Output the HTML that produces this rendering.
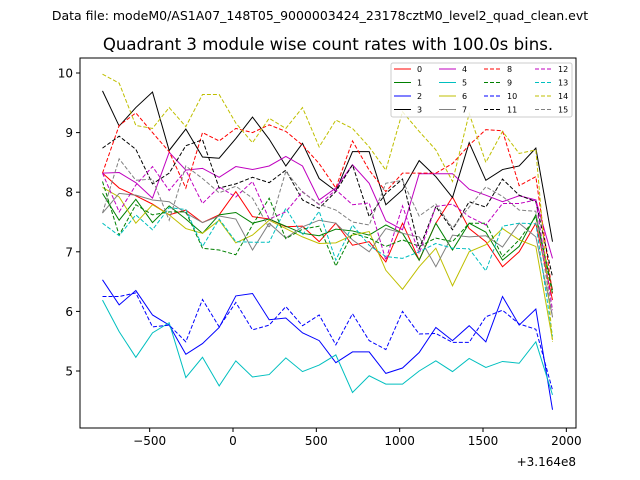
<!DOCTYPE html>
<html><head><meta charset="utf-8"><style>
html,body{margin:0;padding:0;background:#fff}
svg{display:block;font-family:"DejaVu Sans","Liberation Sans",sans-serif}
</style></head><body>
<svg id="chart" width="640" height="480" viewBox="0 0 640 480" xmlns="http://www.w3.org/2000/svg">
<rect width="640" height="480" fill="#fff"/>
<text x="320" y="20" font-size="12.5" text-anchor="middle">Data file: modeM0/AS1A07_148T05_9000003424_23178cztM0_level2_quad_clean.evt</text>
<text x="328" y="50" font-size="16.6" text-anchor="middle">Quadrant 3 module wise count rates with 100.0s bins.</text>
<g id="plot"></g>
<g id="axes"></g>
<g id="legend"></g>
</svg>
<script>
const xTicks=[-500,0,500,1000,1500,2000];
const yTicks=[5,6,7,8,9,10];
const xStart=-783, xStep=100, nPts=28;
const labels=["0","1","2","3","4","5","6","7","8","9","10","11","12","13","14","15"];
const colors=["#ff0000","#008000","#0000ff","#000000","#bf00bf","#00bfbf","#bfbf00","#808080","#ff0000","#008000","#0000ff","#000000","#bf00bf","#00bfbf","#bfbf00","#808080"];
const s0=[8.32,8.07,7.94,7.80,7.62,7.70,7.49,7.62,8.01,7.59,7.55,7.42,7.43,7.17,7.48,7.11,7.17,6.83,7.48,6.86,7.48,7.92,7.39,7.17,6.75,7.00,7.48,6.19];
const s1=[7.98,7.53,7.88,7.49,7.77,7.55,7.31,7.62,7.66,7.48,7.55,7.43,7.31,7.27,7.38,7.35,7.28,7.45,7.31,6.86,7.48,7.03,7.48,7.33,6.86,7.09,7.62,6.36];
const s2=[6.53,6.11,6.35,5.94,5.77,5.28,5.46,5.73,6.26,6.30,5.86,5.89,5.64,5.51,5.14,5.32,5.32,4.96,5.05,5.31,5.73,5.51,5.76,5.49,6.25,5.77,6.04,4.35];
const s3=[9.70,9.11,9.42,9.68,8.70,9.06,8.59,8.57,8.90,9.26,8.89,8.44,8.82,8.23,8.02,8.68,8.68,7.79,8.04,8.53,8.26,7.91,8.83,8.20,8.38,8.44,8.74,7.17];
const s4=[8.32,8.33,8.16,7.90,8.67,8.37,8.40,8.25,8.43,8.38,8.44,8.60,8.44,7.87,8.07,8.46,8.15,7.52,7.37,8.31,8.31,8.31,8.05,7.95,7.84,7.94,7.87,6.89];
const s5=[6.19,5.66,5.23,5.64,5.81,4.89,5.23,4.75,5.17,4.90,4.94,5.22,4.99,5.10,5.27,4.64,4.92,4.78,4.78,5.00,5.17,4.99,5.21,5.06,5.16,5.13,5.49,4.60];
const s6=[8.08,7.92,7.48,7.79,7.62,7.39,7.31,7.53,7.15,7.28,7.53,7.39,7.25,7.14,7.15,7.28,7.34,6.69,6.37,6.75,7.06,6.43,7.00,7.12,7.39,7.20,7.09,5.52];
const s7=[7.65,7.98,7.95,7.87,7.84,7.65,7.49,7.60,7.55,7.03,7.48,7.23,7.42,7.53,7.48,7.20,7.00,7.39,7.31,7.25,6.75,7.28,7.25,7.27,7.08,7.48,7.25,5.91];
const s8=[8.32,9.12,9.33,9.00,8.68,8.07,9.00,8.86,9.07,9.00,9.13,9.02,8.79,8.48,8.07,8.86,8.37,8.01,8.32,8.32,8.32,8.48,8.79,9.05,9.03,8.11,8.26,6.30];
const s9=[8.18,7.28,7.79,7.62,7.67,7.67,7.06,7.03,6.95,7.45,7.90,7.22,7.38,7.43,6.76,7.31,7.23,7.09,7.20,7.09,7.23,7.17,7.48,7.48,6.92,7.20,7.59,6.30];
const s10=[6.25,6.25,6.31,5.74,5.77,5.49,6.20,5.74,6.15,5.69,5.77,6.08,5.76,5.94,5.44,5.96,5.51,5.36,6.00,5.62,5.63,5.48,5.48,5.91,6.02,5.79,5.70,4.68];
const s11=[8.74,8.94,8.72,8.14,8.32,8.78,8.88,8.07,8.14,8.25,8.16,8.37,7.87,7.73,8.01,8.46,7.59,7.98,8.22,7.05,7.76,7.37,7.84,7.75,8.22,7.95,7.84,6.58];
const s12=[8.32,7.67,8.12,8.43,8.03,8.37,7.81,8.09,7.92,8.18,7.55,7.67,8.01,7.79,8.04,7.79,7.82,6.86,7.77,6.97,7.76,7.80,7.59,7.45,7.81,7.81,7.87,6.02];
const s13=[7.48,7.27,7.62,7.37,7.74,7.71,7.09,7.55,7.17,7.16,7.16,7.73,7.28,7.68,6.86,7.45,7.11,6.92,6.89,7.00,7.14,7.06,7.05,6.68,7.43,7.48,7.47,5.58];
const s14=[9.98,9.83,9.12,9.07,9.42,9.10,9.64,9.64,9.16,8.83,9.24,9.07,9.42,8.76,9.21,9.07,8.76,8.37,9.35,9.02,8.71,8.18,9.32,8.50,9.02,8.65,8.71,5.49];
const s15=[7.65,8.56,8.20,8.22,7.53,8.44,8.23,7.99,8.10,7.90,7.40,8.35,8.00,7.80,7.70,7.50,7.45,8.15,8.20,7.60,7.80,7.40,7.75,8.09,7.93,7.70,7.68,5.90];
const series=[s0,s1,s2,s3,s4,s5,s6,s7,s8,s9,s10,s11,s12,s13,s14,s15];

const L=80,R=576,T=58,B=428;
function xs(v){return 233+(v)*0.16667;}
function ys(v){return 371-(v-5)*59.6;}
const NS="http://www.w3.org/2000/svg";
function mk(tag,attrs,parent){const e=document.createElementNS(NS,tag);for(const k in attrs)e.setAttribute(k,attrs[k]);parent.appendChild(e);return e;}
const plot=document.getElementById('plot'),axes=document.getElementById('axes'),leg=document.getElementById('legend');

series.forEach((s,k)=>{
  const pts=s.map((v,i)=>xs(xStart+i*xStep).toFixed(2)+','+ys(v).toFixed(2)).join(' ');
  const pl=mk('polyline',{points:pts,fill:'none',stroke:colors[k],'stroke-width':1,'stroke-dasharray':k>=8?'4,2':'none'},plot);
  
  
});

const fr=mk('rect',{x:L,y:T,width:R-L,height:B-T,fill:'none',stroke:'#000','stroke-width':1},axes);


xTicks.forEach(t=>{
  const x=xs(t);
  const tl=mk('line',{x1:x,x2:x,y1:B,y2:B+4,stroke:'#000'},axes);
  
  
  const tx=mk('text',{x:x,y:B+17,'font-size':12,'text-anchor':'middle'},axes);
  tx.textContent=t<0?'\u2212'+(-t):String(t);
  
  
});
yTicks.forEach(t=>{
  const y=ys(t);
  const tl=mk('line',{x1:L-4,x2:L,y1:y,y2:y,stroke:'#000'},axes);
  
  
  const tx=mk('text',{x:L-7,y:y+4.5,'font-size':12,'text-anchor':'end'},axes);
  tx.textContent=String(t);
  
  
});
const off=mk('text',{x:576,y:466,'font-size':12,'text-anchor':'end'},axes);
off.textContent='+3.164e8';



const lb=mk('rect',{x:391,y:63,width:181,height:54,fill:'#fff','fill-opacity':0.8,stroke:'#ccc','stroke-width':1,rx:2},leg);


const colX=[394,439,484,535], rowY=[69,82.5,96,109.5];
labels.forEach((lab,k)=>{
  const c=Math.floor(k/4), r=k%4;
  const g=mk('g',{},leg);
  
  
  mk('line',{x1:colX[c],x2:colX[c]+17,y1:rowY[r],y2:rowY[r],stroke:colors[k],'stroke-width':1,'stroke-dasharray':k>=8?'4,2':'none'},g);
  const t=mk('text',{x:colX[c]+23,y:rowY[r]+3,'font-size':8},g);
  t.textContent=lab;
});
</script>
</body></html>
